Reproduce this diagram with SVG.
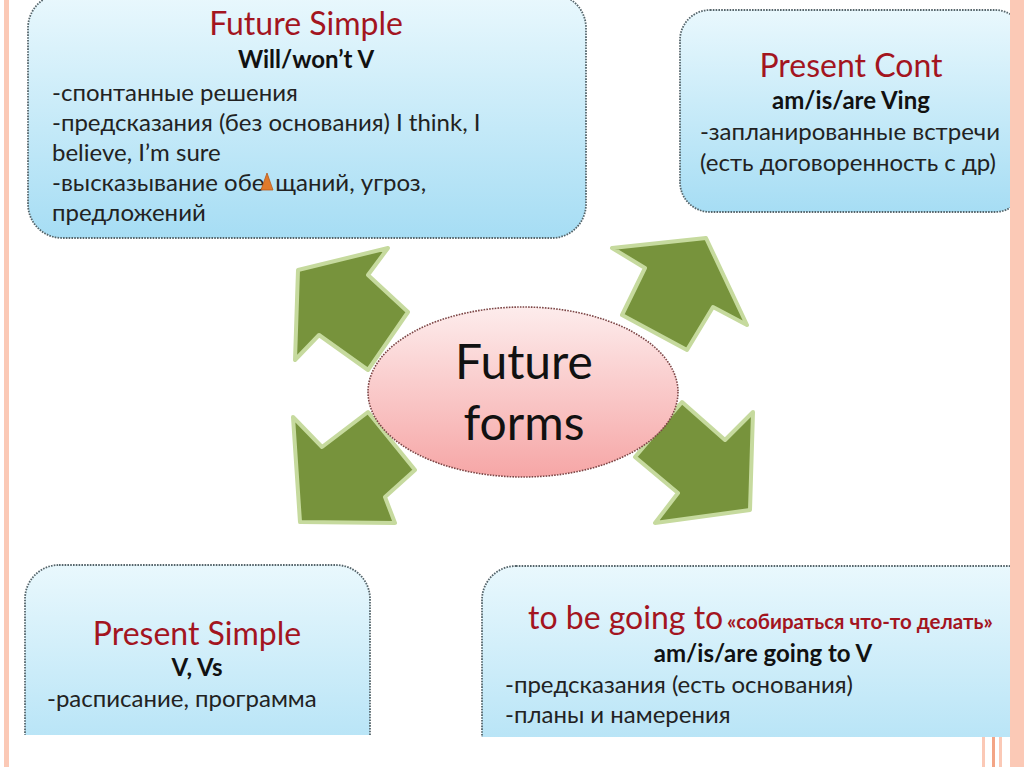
<svg xmlns="http://www.w3.org/2000/svg" width="1024" height="767" viewBox="0 0 1024 767">
<style>
.box{stroke:#55656b;stroke-width:1.8;stroke-dasharray:1.6 1.2}
.title{font-family:Lato,"Liberation Sans",sans-serif;fill:#a3151f;font-size:32px;text-anchor:middle}
.sub{font-family:Lato,"Liberation Sans",sans-serif;font-weight:bold;fill:#111;font-size:24px;text-anchor:middle}
.body{font-family:Lato,"Liberation Sans",sans-serif;fill:#222;font-size:24px}
.arrow{fill:#77933c;stroke:#c6da9e;stroke-width:4;stroke-linejoin:round}
.deco{fill:#fbc9b6}
</style>
<defs>
<linearGradient id="blue" x1="0" y1="0" x2="0" y2="1">
<stop offset="0" stop-color="#e9f8fd"/>
<stop offset="1" stop-color="#a6ddf4"/>
</linearGradient>
<linearGradient id="pink" x1="0" y1="0" x2="0" y2="1">
<stop offset="0" stop-color="#fdecec"/>
<stop offset="1" stop-color="#f6a6a6"/>
</linearGradient>
<clipPath id="clipBL"><rect x="0" y="0" width="1024" height="735"/></clipPath>
<clipPath id="clipBR"><rect x="0" y="0" width="1024" height="737"/></clipPath>
</defs>
<rect width="1024" height="767" fill="#ffffff"/>

<g id="future-simple">
<rect class="box" x="28" y="-6" width="558" height="244" rx="34" fill="url(#blue)"/>
<text class="title" x="306" y="35">Future Simple</text>
<text class="sub" x="306" y="68">Will/won’t V</text>
<text class="body" x="52" y="101">-спонтанные решения</text>
<text class="body" x="52" y="131">-предсказания (без основания) I think, I</text>
<text class="body" x="52" y="161">believe, I’m sure</text>
<text class="body" x="52" y="191">-высказывание обе<tspan dx="11">щаний, угроз,</tspan></text>
<text class="body" x="52" y="221">предложений</text>
<polygon points="267,173 273,190 261,190" fill="#e07a2c" stroke="#b8591a" stroke-width="0.8"/>
</g>

<g id="present-cont">
<rect class="box" x="680" y="10" width="345" height="202" rx="30" fill="url(#blue)"/>
<text class="title" x="851" y="77">Present Cont</text>
<text class="sub" x="851" y="109">am/is/are Ving</text>
<text class="body" x="850" y="140" text-anchor="middle">-запланированные встречи</text>
<text class="body" x="848" y="171" text-anchor="middle">(есть договоренность с др)</text>
</g>

<g id="present-simple" clip-path="url(#clipBL)">
<rect class="box" x="25" y="565" width="345" height="240" rx="34" fill="url(#blue)"/>
<text class="title" x="197" y="645">Present Simple</text>
<text class="sub" x="197" y="676">V, Vs</text>
<text class="body" x="47" y="707">-расписание, программа</text>
</g>

<g id="going-to" clip-path="url(#clipBR)">
<rect class="box" x="482" y="566" width="560" height="240" rx="34" fill="url(#blue)"/>
<text x="528" y="629" style="font-family:Lato,'Liberation Sans',sans-serif;fill:#a3151f;font-size:32px">to be going to</text>
<text x="727" y="629" style="font-family:Lato,'Liberation Sans',sans-serif;fill:#a3151f;font-size:20.5px;font-weight:bold">«собираться что-то делать»</text>
<text class="sub" x="763" y="662">am/is/are going to V</text>
<text class="body" x="505" y="693">-предсказания (есть основания)</text>
<text class="body" x="505" y="723">-планы и намерения</text>
</g>

<g id="connectors">
<polygon class="arrow" points="298,270 388,248 368,275 408,312 368,370 319,335 295,360"/>
<polygon class="arrow" points="612,248 706,238 747,325 713,307 687,350 622,315 645,268"/>
<polygon class="arrow" points="300,522 293,417 322,447 368,412 415,470 385,497 395,523"/>
<polygon class="arrow" points="750,510 753,412 725,440 682,402 635,457 678,493 655,523"/>
</g>

<g id="future-forms">
<ellipse cx="523" cy="392" rx="155" ry="85" fill="url(#pink)" stroke="#7d4646" stroke-width="1.6" stroke-dasharray="1.6 1.2"/>
<text x="524" y="379" text-anchor="middle" style="font-family:Lato,'Liberation Sans',sans-serif;fill:#111;font-size:48px">Future</text>
<text x="524" y="440" text-anchor="middle" style="font-family:Lato,'Liberation Sans',sans-serif;fill:#111;font-size:48px">forms</text>
</g>

<g id="decoration">
<rect class="deco" x="4" y="0" width="5" height="767"/>
<rect class="deco" x="1010" y="0" width="14" height="767"/>
<rect class="deco" x="982" y="737" width="3" height="30"/>
<rect x="992" y="737" width="3" height="30" fill="#f3a586"/>
<rect class="deco" x="999" y="737" width="3" height="30"/>
</g>
</svg>
